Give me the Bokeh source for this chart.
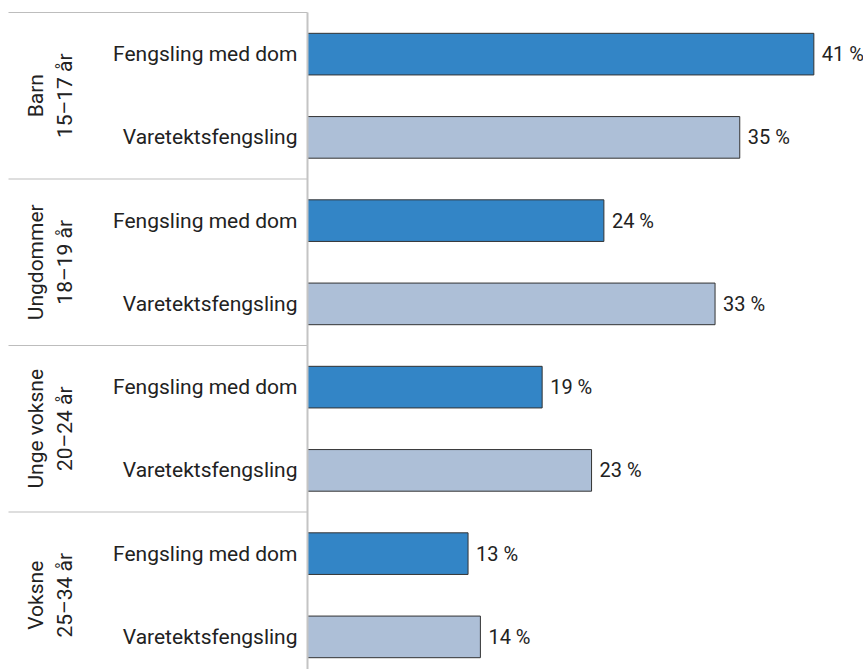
from bokeh.plotting import figure
from bokeh.models import ColumnDataSource, Range1d
from bokeh.core.properties import value
from bokeh.embed import file_html
from bokeh.resources import INLINE

# ---- data ----
groups = ["Barn\n15–17 år", "Ungdommer\n18–19 år", "Unge voksne\n20–24 år", "Voksne\n25–34 år"]
types = ["Fengsling med dom", "Varetektsfengsling"]
dom = [41, 24, 19, 13]
varetekt = [35, 33, 23, 14]
type_colors = ["#3385c6", "#adbfd7"]

# ---- layout constants ----
W, H = 863, 669
AXIS_PX = 307          # canvas x position of value 0
LEFT_PX = 8            # start of separator lines
TOP_PX = 12            # top rule
PX_PER_PCT = 12.35
PX_PER_ROW = 83.25
FONT = value("Roboto")

series = [dom, varetekt]
ys, rights, fills, sub_labels, val_labels = [], [], [], [], []
for gi, g in enumerate(groups):
    for ti, t in enumerate(types):
        v = series[ti][gi]
        ys.append(-(2 * gi + ti + 0.5))
        rights.append(v)
        fills.append(type_colors[ti])
        sub_labels.append(t)
        val_labels.append(f"{v} %")

src = ColumnDataSource(dict(y=ys, right=rights, fill=fills, sub=sub_labels, lab=val_labels,
                            zero=[0] * len(ys)))

x_start = -AXIS_PX / PX_PER_PCT
x_end = (W - AXIS_PX) / PX_PER_PCT
y_end = TOP_PX / PX_PER_ROW
y_start = -(H - TOP_PX) / PX_PER_ROW
p = figure(width=W, height=H, x_range=Range1d(x_start, x_end), y_range=Range1d(y_start, y_end),
           x_axis_location=None, y_axis_location=None, toolbar_location=None,
           output_backend="svg", min_border=0, outline_line_color=None)
p.xgrid.visible = False
p.ygrid.visible = False

# group separators
ng = len(groups)
sep_y = [-(2 * gi) for gi in range(ng + 1)]
sep_x0 = x_start + LEFT_PX / PX_PER_PCT
p.segment(x0=[sep_x0] * len(sep_y), x1=[0] * len(sep_y), y0=sep_y, y1=sep_y,
          line_color="#bdbdbd", line_width=1)

# bars
p.hbar(y="y", left=0, right="right", height=0.5, fill_color="fill", line_color="#333333",
       line_width=1, source=src)

# vertical axis line
p.segment(x0=[0], x1=[0], y0=[0], y1=[-2 * ng], line_color="#c4c4c4", line_width=2)

# subcategory labels
p.text(x="zero", y="y", text="sub", source=src, x_offset=-10, text_align="right",
       text_baseline="middle", text_font=FONT, text_font_size="21px", text_color="#222222")

# value labels
p.text(x="right", y="y", text="lab", source=src, x_offset=8, text_align="left",
       text_baseline="middle", text_font=FONT, text_font_size="20px", text_color="#222222")

# group labels (rotated)
gsrc = ColumnDataSource(dict(x=[x_start] * ng, y=[-(2 * gi + 1) for gi in range(ng)], t=groups))
p.text(x="x", y="y", text="t", source=gsrc, x_offset=50, angle=1.5707963, text_align="center",
       text_baseline="middle", text_font=FONT, text_font_size="21px", text_color="#222222",
       text_line_height=1.2)

open("out.html", "w").write(file_html(p, INLINE))
